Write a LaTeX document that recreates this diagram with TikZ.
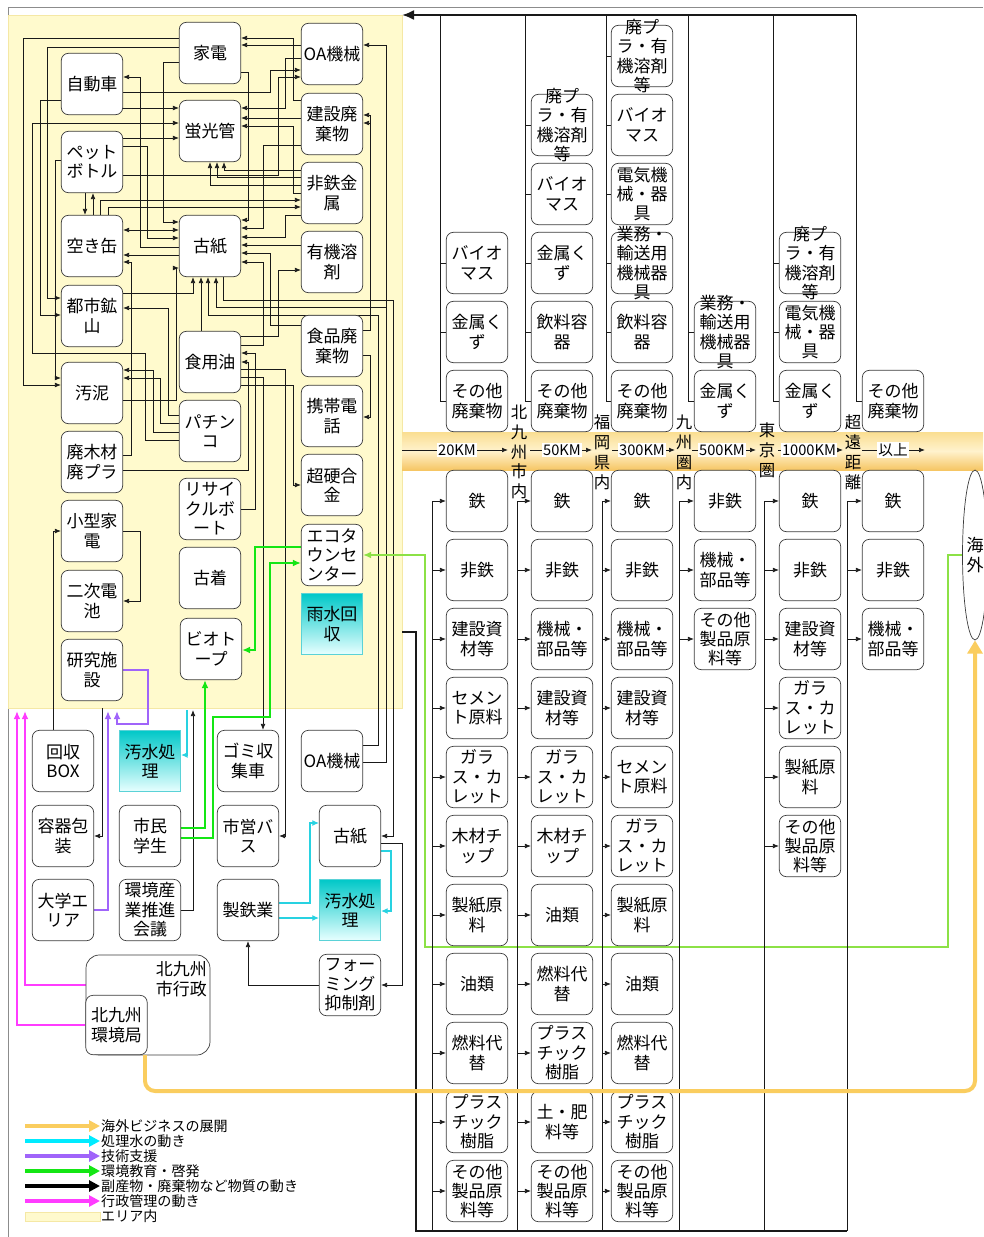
\documentclass[tikz,border=0pt]{standalone}
\usepackage{fontspec}
\setmainfont{Noto Sans CJK JP}
\usetikzlibrary{arrows.meta,shapes.geometric}
\pgfdeclarelayer{bg}
\pgfdeclarelayer{mid}
\pgfsetlayers{bg,mid,main}
\definecolor{areaY}{RGB}{255,250,205}
\definecolor{areaB}{RGB}{245,232,165}
\definecolor{boxG}{RGB}{60,60,60}
\definecolor{wireK}{RGB}{25,25,25}
\definecolor{frameG}{RGB}{140,140,140}
\definecolor{orangeL}{RGB}{250,205,95}
\definecolor{cyanW}{RGB}{40,210,225}
\definecolor{cyanL}{RGB}{0,235,255}
\definecolor{purpleT}{RGB}{160,100,250}
\definecolor{greenE}{RGB}{20,230,20}
\definecolor{greenO}{RGB}{140,225,70}
\definecolor{magentaA}{RGB}{255,60,255}
\definecolor{tealTop}{RGB}{0,200,200}
\definecolor{tealBot}{RGB}{232,255,255}
\definecolor{tealLine}{RGB}{90,210,215}
\definecolor{bandEdge}{RGB}{250,222,145}
\definecolor{bandLow}{RGB}{246,198,100}
\definecolor{bandMid}{RGB}{255,242,205}
\begin{document}
\begin{tikzpicture}[x=0.03cm, y=-0.03cm]
\tikzset{
  bx/.style={draw=boxG, fill=white, rounded corners=0.21cm, line width=0.6pt,
    minimum width=1.84cm, minimum height=1.84cm, inner sep=0pt},
  tl/.style={draw=tealLine, top color=tealTop, bottom color=tealBot, line width=0.6pt,
    minimum width=1.84cm, minimum height=1.84cm, inner sep=0pt},
  tx/.style={align=center, inner sep=0pt, font=\fontsize{14.5}{16.6}\selectfont},
  vt/.style={align=center, inner sep=0pt, font=\fontsize{14}{17}\selectfont},
  km/.style={fill=white, inner sep=1pt, font=\fontsize{12.5}{14}\selectfont},
  lg/.style={anchor=west, inner sep=0pt, font=\fontsize{12}{14}\selectfont},
  wire/.style={line width=0.6pt, draw=wireK},
  fl/.style={wire, -{Latex[length=1.8mm,width=1.4mm]}},
  fl2/.style={wire, {Latex[length=1.8mm,width=1.4mm]}-{Latex[length=1.8mm,width=1.4mm]}},
  cyw/.style={line width=1pt, draw=cyanW, -{Latex[length=2mm,width=1.8mm]}},
  puw/.style={line width=1.4pt, draw=purpleT, -{Latex[length=2.4mm,width=2mm]}},
  grw/.style={line width=1.4pt, draw=greenE, -{Latex[length=2.4mm,width=2mm]}},
  gow/.style={line width=1.2pt, draw=greenO, -{Latex[length=2.4mm,width=2mm]}},
  mgw/.style={line width=1.4pt, draw=magentaA, -{Latex[length=2.4mm,width=2mm]}},
  orw/.style={line width=3.4pt, draw=orangeL, rounded corners=0.3cm, -{Triangle[length=4mm,width=4.5mm]}},
}
\useasboundingbox (0,0) rectangle (983,1237);

\begin{pgfonlayer}{bg}
  \draw[frameG, line width=0.8pt] (983,7) -- (8,7) -- (8,1237);
  \fill[areaY, draw=areaB] (8,15) rectangle (402,708);
  \shade[top color=bandEdge, bottom color=bandLow, middle color=bandMid] (402,432) rectangle (983,470);
\end{pgfonlayer}

% エリア内
\node[bx, tx] (kaden) at (210,53) {家電};
\node[bx, tx] (oa) at (332,54) {OA機械};
\node[bx, tx] (jidosha) at (92,84) {自動車};
\node[bx, tx] (keikou) at (210,131) {蛍光管};
\node[bx, tx] (kensetsu) at (332,124) {建設廃\\棄物};
\node[bx, tx] (pet) at (92,162) {ペット\\ボトル};
\node[bx, tx] (hitetsu) at (332,193) {非鉄金\\属};
\node[bx, tx] (akikan) at (92,246) {空き缶};
\node[bx, tx] (koshi) at (210,246) {古紙};
\node[bx, tx] (yuuki) at (332,262) {有機溶\\剤};
\node[bx, tx] (toshi) at (92,316) {都市鉱\\山};
\node[bx, tx] (shokuhin) at (332,346) {食品廃\\棄物};
\node[bx, tx] (shokuyo) at (210,362) {食用油};
\node[bx, tx] (odei) at (92,393) {汚泥};
\node[bx, tx] (keitai) at (332,416) {携帯電\\話};
\node[bx, tx] (pachinko) at (210,431) {パチン\\コ};
\node[bx, tx] (haimoku) at (92,462) {廃木材\\廃プラ};
\node[bx, tx] (chokou) at (332,485) {超硬合\\金};
\node[bx, tx] (boat) at (210,509) {リサイ\\クルボ\\ート};
\node[bx, tx] (kogata) at (92,531) {小型家\\電};
\node[bx, tx] (ecotown) at (332,555) {エコタ\\ウンセ\\ンター};
\node[bx, tx] (furugi) at (210,578) {古着};
\node[bx, tx] (niji) at (92,601) {二次電\\池};
\node[tl, tx] (usui) at (332,624) {雨水回\\収};
\node[bx, tx] (biotope) at (211,649) {ビオト\\ープ};
\node[bx, tx] (kenkyu) at (92,670) {研究施\\設};

% エリア外
\node[bx, tx] (kaishu) at (63,761) {回収\\BOX};
\node[tl, tx] (osui1) at (150,761) {汚水処\\理};
\node[bx, tx] (gomi) at (248,761) {ゴミ収\\集車};
\node[bx, tx] (oa2) at (332,761) {OA機械};
\node[bx, tx] (yoki) at (63,836) {容器包\\装};
\node[bx, tx] (shimin) at (150,836) {市民\\学生};
\node[bx, tx] (bus) at (248,836) {市営バ\\ス};
\node[bx, tx] (koshi2) at (350,836) {古紙};
\node[bx, tx] (daigaku) at (63,910) {大学エ\\リア};
\node[bx, tx] (kaigi) at (150,910) {環境産\\業推進\\会議};
\node[bx, tx] (seitetsu) at (248,910) {製鉄業};
\node[tl, tx] (osui2) at (350,910) {汚水処\\理};
\node[bx, minimum width=3.72cm, minimum height=3cm, rounded corners=0.4cm] (gyosei) at (148,1005) {};
\node[tx, align=right, anchor=north east] (gyosei-t) at ([xshift=-0.1cm, yshift=-0.2cm]gyosei.north east) {北九州\\市行政};
\node[bx, tx, minimum height=1.78cm] (kankyo) at (116.5,1025) {北九州\\環境局};
\node[bx, tx] (foam) at (350,985) {フォー\\ミング\\抑制剤};

\coordinate (inYoki) at (102,708);
\coordinate (outKaigi) at (193,710);
\coordinate (outArea) at (402,632);
\coordinate (inOsui) at (187,710);
\coordinate (inKenkyu) at (117,711);
\coordinate (inDaigaku) at (108,711);
\coordinate (inGyo) at (25,711);
\coordinate (inKan) at (17,711);

% 海外
\node[draw=boxG, line width=0.6pt, ellipse, minimum width=0.75cm, minimum height=5.1cm, inner sep=0pt] (kaigai) at (975,555) {};
\node[tx] (kaigai-t) at (kaigai) {海\\外};

\begin{pgfonlayer}{mid}
  % 物質の動き (エリア内)
  \draw[fl] (kaden.west |- 0,38) -| (23,385) -- (odei.west |- 0,385);
  \draw[fl] (kaden.west |- 0,47) -| (47,298) -- (toshi.west |- 0,298);
  \draw[fl] (kaden.west |- 0,62) -| (163,222) -- (koshi.west |- 0,222);
  \draw[fl] (jidosha.west |- 0,100) -| (40,315) -- (toshi.west |- 0,315);
  \draw[fl] (jidosha.east |- 0,92) -| (270,70) -- (oa.west |- 0,70);
  \draw[fl] (jidosha.east |- 0,108) -- (keikou.west |- 0,108);
  \draw[fl] (pet.east |- 0,138) -- (keikou.west |- 0,138);
  \draw[fl] (pet.east |- 0,146) -| (147,238) -- (koshi.west |- 0,238);
  \draw[fl] (pet.east |- 0,175) -| (278,77) -- (oa.west |- 0,77);
  \draw[fl] (pet.west |- 0,160) -| (55,378) -- (odei.west |- 0,378);
  \draw[fl] ([xshift=-0.21cm]pet.south) -- ([xshift=-0.21cm]akikan.north);
  \draw[fl] ([xshift=0.03cm]akikan.north) -- ([xshift=0.03cm]pet.south);
  \draw[fl2] (akikan.east |- 0,230) -- (koshi.west |- 0,230);
  \draw[fl] (koshi.west |- 0,255) -- (akikan.east |- 0,255);
  \draw[fl] (koshi.west |- 0,247) -| (140,77) -- (jidosha.east |- 0,77);
  \draw[fl] (akikan.north -| 100,0) |- (hitetsu.west |- 0,200);
  \draw[fl] (akikan.north -| 108,0) |- (hitetsu.west |- 0,207);
  \draw[fl] (toshi.east |- 0,293) -| (koshi.south -| 193,0);
  \draw[fl] (shokuyo.north -| 201,0) -- (koshi.south -| 201,0);
  \draw[fl] (odei.east |- 0,400) -| (176,268) -- (koshi.west |- 0,268);
  \draw[fl] (pachinko.west |- 0,415) -| (168,308) -- (toshi.east |- 0,308);
  \draw[fl] (pachinko.west |- 0,423) -| (160,378) -- (odei.east |- 0,378);
  \draw[fl] (pachinko.west |- 0,432) -| (153,370) -- (odei.east |- 0,370);
  \draw[fl] (pachinko.west |- 0,440) -| (145,353) -| (32,123) -- (keikou.west |- 0,123);
  \draw[fl] (haimoku.east |- 0,455) -| (131,262) -- (akikan.east |- 0,262);
  \draw[fl] (haimoku.east |- 0,470) -| (248,362) -- (shokuyo.east |- 0,362);
  \draw[fl] (boat.east |- 0,509) -| (255,353) -- (shokuyo.east |- 0,353);
  \draw[fl] (kogata.east |- 0,531) -| (140,601) -- (niji.east |- 0,601);
  \draw[fl] (oa.west |- 0,45) -- (kaden.east |- 0,45);
  \draw[fl] (oa.west |- 0,58) -| (285,108) -- (keikou.east |- 0,108);
  \draw[fl] (kensetsu.west |- 0,100) -| (293,38) -- (kaden.east |- 0,38);
  \draw[fl] (kensetsu.west |- 0,118) -- (keikou.east |- 0,118);
  \draw[fl] (hitetsu.west |- 0,193) -| (293,126) -- (keikou.east |- 0,126);
  \draw[fl] (hitetsu.west |- 0,170) -| (keikou.south -| 224,0);
  \draw[fl] (hitetsu.west |- 0,177) -| (keikou.south -| 217,0);
  \draw[fl] (hitetsu.west |- 0,185) -| (keikou.south -| 210,0);
  \draw[fl] (kaden.east |- 0,72) -| (248,220) -- (koshi.east |- 0,220);
  \draw[fl] (kensetsu.west |- 0,145) -| (263,228) -- (koshi.east |- 0,228);
  \draw[fl] (hitetsu.west |- 0,215) -| (285,237) -- (koshi.east |- 0,237);
  \draw[fl] (yuuki.west |- 0,245) -- (koshi.east |- 0,245);
  \draw[fl] (shokuhin.west |- 0,325) -| (270,253) -- (koshi.east |- 0,253);
  \draw[fl] (shokuyo.east |- 0,345) -| (263,262) -- (koshi.east |- 0,262);
  \draw[fl] (shokuyo.east |- 0,336) -| (278,270) -- (yuuki.west |- 0,270);
  \draw[fl] (shokuyo.east |- 0,385) -| (293,485) -- (chokou.west |- 0,485);
  \draw[fl] (shokuhin.east |- 0,330) -| (370,115) -- (kensetsu.east |- 0,115);
  \draw[fl] (shokuhin.east |- 0,330) -| (370,123) -- (kensetsu.east |- 0,123);
  \draw[fl] (shokuhin.east |- 0,355) -| (370,417) -- (keitai.east |- 0,417);
  % エリア内外の物質の動き
  \draw[fl] (shokuyo.east |- 0,377) -| (gomi.north -| 263,0);
  \draw[fl] (shokuyo.east |- 0,369) -| (285,836) -- (bus.east |- 0,836);
  \draw[fl] (oa2.east |- 0,745) -| (378,315) -| (koshi.south -| 208,0);
  \draw[fl] (oa2.east |- 0,762) -| (386,307) -| (koshi.south -| 216,0);
  \draw[fl] (oa2.east |- 0,762) -| (386,45) -- (oa.east |- 0,45);
  \draw[fl] (koshi.south -| 223,0) |- (393,300) |- (koshi2.east |- 0,836);
  \draw[fl] (koshi2.east |- 0,843) -| (402,985) -- (foam.east |- 0,985);
  \draw[fl] (foam.west |- 0,985) -| (seitetsu.south);
  \draw[fl] (kaishu.north -| 53,0) |- (kogata.west |- 0,531);
  \draw[fl] (inYoki) |- (yoki.east |- 0,836);
  \draw[fl] (kaigi.east |- 0,910) -| (outKaigi);
  \draw[line width=1.8pt, draw=wireK] (outArea) -- (416,632) |- (847,1231);
  % 処理水・技術支援・啓発・行政管理
  \draw[cyw] (inOsui) |- (osui1.east |- 0,755);
  \draw[cyw] (seitetsu.east |- 0,903) -| (310,823) -- (koshi2.west |- 0,823);
  \draw[cyw] (seitetsu.east |- 0,918) -- (osui2.west |- 0,918);
  \draw[cyw] (koshi2.east |- 0,851) -| (391,911) -- (osui2.east |- 0,911);
  \draw[puw] (kenkyu.east |- 0,670) -| (148,724) -| (inKenkyu);
  \draw[puw] (daigaku.east |- 0,910) -| (inDaigaku);
  \draw[grw] (shimin.east |- 0,828) -| (biotope.south -| 205,0);
  \draw[grw] (shimin.east |- 0,838) -| (213,717) -| (270,563) -- (ecotown.west |- 0,563);
  \draw[grw] (ecotown.west |- 0,547) -| (255,650) -- (biotope.east |- 0,650);
  \draw[gow] (kaigai.west) -- (948,555) |- (425,947) |- (ecotown.east);
  \draw[mgw] (gyosei.west |- 0,985) -| (inGyo);
  \draw[mgw] (kankyo.west |- 0,1025) -| (inKan);
\end{pgfonlayer}

% 距離帯の列 (上段: 発生, 下段: 再資源化)
\draw[line width=1.8pt, draw=wireK, -{Latex[length=3.6mm,width=3mm]}] (856,15) -- (402,15);
\draw[wire] (440,15) -- (440,401);
\foreach \y/\txt in {401/{その他\\廃棄物}, 332/{金属く\\ず}, 263/{バイオ\\マス}}{
  \node[bx] (c1t\y) at (477,\y) {};
  \node[tx] (c1t\y-t) at (c1t\y) {\txt};
  \draw[wire] (440,\y) -- (c1t\y.west);
}
\draw[wire] (525,15) -- (525,401);
\foreach \y/\txt in {401/{その他\\廃棄物}, 332/{飲料容\\器}, 263/{金属く\\ず}, 194/{バイオ\\マス}, 125/{廃プ\\ラ・有\\機溶剤\\等}}{
  \node[bx] (c2t\y) at (562,\y) {};
  \node[tx] (c2t\y-t) at (c2t\y) {\txt};
  \draw[wire] (525,\y) -- (c2t\y.west);
}
\draw[wire] (606,15) -- (606,401);
\foreach \y/\txt in {401/{その他\\廃棄物}, 332/{飲料容\\器}, 263/{業務・\\輸送用\\機械器\\具}, 194/{電気機\\械・器\\具}, 125/{バイオ\\マス}, 56/{廃プ\\ラ・有\\機溶剤\\等}}{
  \node[bx] (c3t\y) at (642,\y) {};
  \node[tx] (c3t\y-t) at (c3t\y) {\txt};
  \draw[wire] (606,\y) -- (c3t\y.west);
}
\draw[wire] (688,15) -- (688,401);
\foreach \y/\txt in {401/{金属く\\ず}, 332/{業務・\\輸送用\\機械器\\具}}{
  \node[bx] (c4t\y) at (725,\y) {};
  \node[tx] (c4t\y-t) at (c4t\y) {\txt};
  \draw[wire] (688,\y) -- (c4t\y.west);
}
\draw[wire] (773,15) -- (773,401);
\foreach \y/\txt in {401/{金属く\\ず}, 332/{電気機\\械・器\\具}, 263/{廃プ\\ラ・有\\機溶剤\\等}}{
  \node[bx] (c5t\y) at (810,\y) {};
  \node[tx] (c5t\y-t) at (c5t\y) {\txt};
  \draw[wire] (773,\y) -- (c5t\y.west);
}
\draw[wire] (856,15) -- (856,401);
\node[bx] (c6t401) at (893,401) {};
\node[tx] (c6t401-t) at (c6t401) {その他\\廃棄物};
\draw[wire] (856,401) -- (c6t401.west);

\draw[wire] (432,501) -- (432,1231);
\foreach \y/\txt in {501/鉄, 570/非鉄, 639/{建設資\\材等}, 708/{セメン\\ト原料}, 777/{ガラ\\ス・カ\\レット}, 846/{木材チ\\ップ}, 915/{製紙原\\料}, 984/油類, 1053/{燃料代\\替}, 1122/{プラス\\チック\\樹脂}, 1191/{その他\\製品原\\料等}}{
  \node[bx] (c1b\y) at (477,\y) {};
  \node[tx] (c1b\y-t) at (c1b\y) {\txt};
  \draw[fl] (432,\y) -- (c1b\y.west);
}
\draw[wire] (517,501) -- (517,1231);
\foreach \y/\txt in {501/鉄, 570/非鉄, 639/{機械・\\部品等}, 708/{建設資\\材等}, 777/{ガラ\\ス・カ\\レット}, 846/{木材チ\\ップ}, 915/油類, 984/{燃料代\\替}, 1053/{プラス\\チック\\樹脂}, 1122/{土・肥\\料等}, 1191/{その他\\製品原\\料等}}{
  \node[bx] (c2b\y) at (562,\y) {};
  \node[tx] (c2b\y-t) at (c2b\y) {\txt};
  \draw[fl] (517,\y) -- (c2b\y.west);
}
\draw[wire] (602,501) -- (602,1231);
\foreach \y/\txt in {501/鉄, 570/非鉄, 639/{機械・\\部品等}, 708/{建設資\\材等}, 777/{セメン\\ト原料}, 846/{ガラ\\ス・カ\\レット}, 915/{製紙原\\料}, 984/油類, 1053/{燃料代\\替}, 1122/{プラス\\チック\\樹脂}, 1191/{その他\\製品原\\料等}}{
  \node[bx] (c3b\y) at (642,\y) {};
  \node[tx] (c3b\y-t) at (c3b\y) {\txt};
  \draw[fl] (602,\y) -- (c3b\y.west);
}
\draw[wire] (679,501) -- (679,1231);
\foreach \y/\txt in {501/非鉄, 570/{機械・\\部品等}, 639/{その他\\製品原\\料等}}{
  \node[bx] (c4b\y) at (725,\y) {};
  \node[tx] (c4b\y-t) at (c4b\y) {\txt};
  \draw[fl] (679,\y) -- (c4b\y.west);
}
\draw[wire] (764,501) -- (764,1231);
\foreach \y/\txt in {501/鉄, 570/非鉄, 639/{建設資\\材等}, 708/{ガラ\\ス・カ\\レット}, 777/{製紙原\\料}, 846/{その他\\製品原\\料等}}{
  \node[bx] (c5b\y) at (810,\y) {};
  \node[tx] (c5b\y-t) at (c5b\y) {\txt};
  \draw[fl] (764,\y) -- (c5b\y.west);
}
\draw[wire] (847,501) -- (847,1231);
\foreach \y/\txt in {501/鉄, 570/非鉄, 639/{機械・\\部品等}}{
  \node[bx] (c6b\y) at (893,\y) {};
  \node[tx] (c6b\y-t) at (c6b\y) {\txt};
  \draw[fl] (847,\y) -- (c6b\y.west);
}

% 距離の帯
\draw[fl] (402,450) -- (508,450);
\draw[fl] (530,450) -- (592,450);
\draw[fl] (612,450) -- (675,450);
\draw[fl] (692,450) -- (756,450);
\draw[fl] (778,450) -- (843,450);
\draw[fl] (862,450) -- (925,450);
\node[km] (km1) at (457,450) {20KM};
\node[km] (km2) at (562,450) {50KM};
\node[km] (km3) at (642,450) {300KM};
\node[km] (km4) at (722,450) {500KM};
\node[km] (km5) at (809,450) {1000KM};
\node[km] (km6) at (893,450) {以上};
\node[vt] (zone1) at (519,452) {北\\九\\州\\市\\内};
\node[vt] (zone2) at (602,452) {福\\岡\\県\\内};
\node[vt] (zone3) at (684,452) {九\\州\\圏\\内};
\node[vt] (zone4) at (767,450) {東\\京\\圏};
\node[vt] (zone5) at (853,452) {超\\遠\\距\\離};

% 海外ビジネス
\draw[orw] (kankyo.south -| 145,0) |- (kaigai.south |- 0,1091) -- (kaigai.south);

% 凡例
\foreach \y/\c/\txt in {1126/orangeL/海外ビジネスの展開, 1141/cyanL/処理水の動き, 1156/purpleT/技術支援, 1171/greenE/環境教育・啓発, 1186/black/副産物・廃棄物など物質の動き, 1201/magentaA/行政管理の動き}{
  \draw[color=\c, line width=0.12cm, -{Triangle[length=0.33cm,width=0.33cm]}] (25,\y) -- (100,\y);
  \node[lg] (lg\y) at (101,\y) {\txt};
}
\draw[fill=areaY, draw=areaB, line width=0.8pt] (25,1212) rectangle (100,1221);
\node[lg] (lgArea) at (101,1216) {エリア内};

\end{tikzpicture}
\end{document}
